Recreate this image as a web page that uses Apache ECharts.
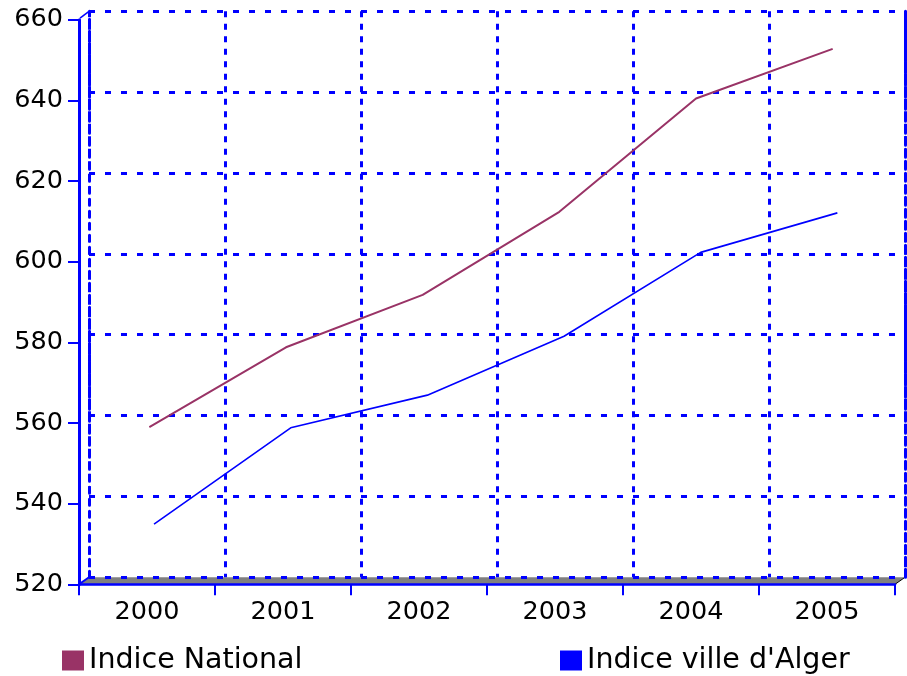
<!DOCTYPE html>
<html>
<head>
<meta charset="utf-8">
<script src="https://cdn.jsdelivr.net/npm/echarts@6/dist/echarts.min.js"></script>
<style>
html,body{margin:0;padding:0;background:#fff;}
#c{width:907px;height:676px;}
</style>
</head>
<body>
<div id="c"></div>
<script>
var years = ['2000', '2001', '2002', '2003', '2004', '2005'];
var national = [558.6, 578.4, 591.4, 612.0, 640.1, 652.4];
var alger = [533.6, 557.5, 565.6, 580.2, 601.0, 610.8];
var seriesNames = ['Indice National', "Indice ville d'Alger"];
var yMin = 520, yMax = 660, yStep = 20;

var BLUE = '#0000ff', RED = '#993366';
var FONT = 'DejaVu Sans';
var FRONT = {left: 79, top: 19.7, width: 816, height: 564.6};
var BACK = {left: 89, top: 11.3, width: 816, height: 566};
var GR = {left: 81, top: 18.2, width: 820, height: 564.6};
var GB = {left: 85.7, top: 14.45, width: 820, height: 564.6};

function hiddenX(i){return {type:'category', gridIndex:i, data:years, boundaryGap:true, show:false};}
function hiddenY(i){return {type:'value', gridIndex:i, min:yMin, max:yMax, interval:yStep, show:false};}

var fb = FRONT.top + FRONT.height, bb = BACK.top + BACK.height;
var fr = FRONT.left + FRONT.width, br = BACK.left + BACK.width;

var chart = echarts.init(document.getElementById('c'));
chart.setOption({
  animation: false,
  backgroundColor: '#ffffff',
  textStyle: {fontFamily: FONT},
  grid: [
    {left: BACK.left, top: BACK.top, width: BACK.width, height: BACK.height},
    {left: FRONT.left, top: FRONT.top, width: FRONT.width, height: FRONT.height},
    {left: GR.left, top: GR.top, width: GR.width, height: GR.height},
    {left: GB.left, top: GB.top, width: GB.width, height: GB.height}
  ],
  xAxis: [
    {type:'category', gridIndex:0, data:years, boundaryGap:true,
     axisLine:{show:false}, axisTick:{show:false}, axisLabel:{show:false},
     splitLine:{show:true, lineStyle:{color:BLUE, width:3, type:[6,6.5]}}},
    {type:'category', gridIndex:1, data:years, boundaryGap:true,
     axisLine:{show:true, lineStyle:{color:BLUE, width:2.5}},
     axisTick:{show:true, length:11, lineStyle:{color:BLUE, width:2}},
     axisLabel:{color:'#000', fontSize:25.5, fontFamily:FONT, margin:16, lineHeight:25},
     splitLine:{show:false}},
    hiddenX(2), hiddenX(3)
  ],
  yAxis: [
    {type:'value', gridIndex:0, min:yMin, max:yMax, interval:yStep,
     axisLine:{show:true, lineStyle:{color:BLUE, width:3, type:[6,6]}},
     axisTick:{show:false}, axisLabel:{show:false},
     splitLine:{show:true, lineStyle:{color:BLUE, width:3, type:[6,10]}}},
    {type:'value', gridIndex:1, min:yMin, max:yMax, interval:yStep,
     axisLine:{show:true, lineStyle:{color:BLUE, width:3}},
     axisTick:{show:true, length:11, lineStyle:{color:BLUE, width:2}},
     axisLabel:{color:'#000', fontSize:25.5, fontFamily:FONT, margin:16},
     splitLine:{show:false}},
    hiddenY(2), hiddenY(3),
    {type:'value', gridIndex:0, min:yMin, max:yMax, interval:yStep, position:'right',
     axisLine:{show:true, lineStyle:{color:BLUE, width:3, type:[8,4]}},
     axisTick:{show:false}, axisLabel:{show:false}, splitLine:{show:false}}
  ],
  legend: [
    {data:[seriesNames[0]], left:57, top:641, icon:'rect', itemWidth:22, itemHeight:20,
     textStyle:{fontSize:28.5, fontFamily:FONT, color:'#000'}},
    {data:[seriesNames[1]], left:555, top:641, icon:'rect', itemWidth:22, itemHeight:20,
     textStyle:{fontSize:28.5, fontFamily:FONT, color:'#000'}}
  ],
  graphic: [
    {type:'polygon', z:-10, silent:true,
     shape:{points:[[FRONT.left, fb],[BACK.left, bb],[br, bb],[fr, fb]]},
     style:{fill:'#808080'}},
    {type:'line', silent:true, shape:{x1:FRONT.left, y1:fb, x2:BACK.left, y2:bb},
     style:{stroke:BLUE, lineWidth:2}},
    {type:'line', silent:true, shape:{x1:FRONT.left+1, y1:FRONT.top-1.5, x2:BACK.left, y2:BACK.top},
     style:{stroke:BLUE, lineWidth:1.5}},
    {type:'line', silent:true, shape:{x1:fr, y1:fb, x2:br, y2:bb},
     style:{stroke:'#000', lineWidth:1}}
  ],
  series: [
    {name:seriesNames[0], type:'line', xAxisIndex:2, yAxisIndex:2, data:national,
     showSymbol:false, symbol:'none', itemStyle:{color:RED}, lineStyle:{color:RED, width:2}},
    {name:seriesNames[1], type:'line', xAxisIndex:3, yAxisIndex:3, data:alger,
     showSymbol:false, symbol:'none', itemStyle:{color:BLUE}, lineStyle:{color:BLUE, width:1.6}}
  ]
});
</script>
</body>
</html>
